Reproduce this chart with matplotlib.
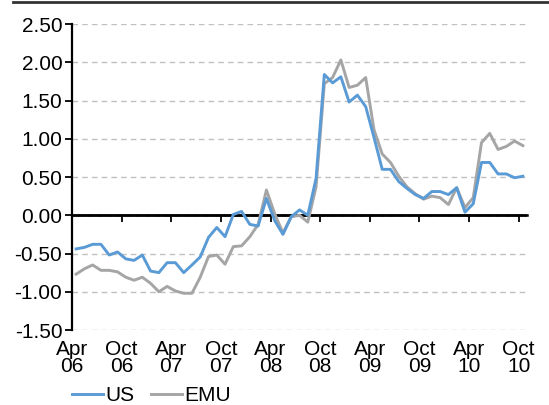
import numpy as np
import matplotlib
matplotlib.use("Agg")
import matplotlib.pyplot as plt
import matplotlib.lines as mlines

plt.rcParams['font.family'] = ['Liberation Sans', 'DejaVu Sans']
plt.rcParams['axes.unicode_minus'] = False

# monthly values, Apr 06 .. Oct 10
us = [-0.44, -0.42, -0.38, -0.38, -0.52, -0.48, -0.57, -0.59, -0.52, -0.73,
      -0.75, -0.62, -0.62, -0.75, -0.65, -0.545, -0.29, -0.16, -0.28, 0.01,
      0.05, -0.12, -0.14, 0.22, -0.07, -0.25, -0.02, 0.07, 0.0, 0.48,
      1.84, 1.73, 1.81, 1.48, 1.57, 1.42, 1.02, 0.60, 0.60, 0.44,
      0.35, 0.27, 0.22, 0.31, 0.31, 0.27, 0.36, 0.04, 0.15, 0.69,
      0.69, 0.54, 0.54, 0.49, 0.51]
emu = [-0.77, -0.70, -0.65, -0.72, -0.72, -0.74, -0.81, -0.85, -0.81, -0.89,
       -1.00, -0.93, -0.99, -1.02, -1.02, -0.81, -0.54, -0.52, -0.64, -0.41,
       -0.40, -0.28, -0.12, 0.33, 0.02, -0.23, -0.02, 0.0, -0.09, 0.37,
       1.72, 1.80, 2.03, 1.67, 1.70, 1.80, 1.12, 0.80, 0.69, 0.51,
       0.37, 0.28, 0.21, 0.25, 0.23, 0.14, 0.36, 0.10, 0.23, 0.95,
       1.07, 0.86, 0.90, 0.97, 0.91]
tick_labels = ['Apr\n06', 'Oct\n06', 'Apr\n07', 'Oct\n07', 'Apr\n08',
               'Oct\n08', 'Apr\n09', 'Oct\n09', 'Apr\n10', 'Oct\n10']
yticks = [-1.5, -1.0, -0.5, 0.0, 0.5, 1.0, 1.5, 2.0, 2.5]

blue = '#5B9BD5'
grey = '#A5A5A5'
fs = 15

fig = plt.figure(figsize=(5.49, 4.05), dpi=100)
ax = fig.add_axes([72/549, 75/405, 455/549, 306/405])

x = np.arange(len(us)) + 0.5
ax.plot(x, us, color=blue, lw=2.1, label='US', zorder=3)
ax.plot(x, emu, color=grey, lw=2.1, label='EMU', zorder=2)
ax.axhline(0, color='black', lw=1.8, zorder=1)

ax.set_xlim(0, 55)
ax.set_ylim(-1.5, 2.5)
ax.set_yticks(yticks)
ax.set_yticklabels(['%.2f' % v for v in yticks])
ax.yaxis.grid(True, color='#C0C0C0', lw=1, dashes=(4, 3))
ax.set_axisbelow(True)

for s in ['top', 'right', 'bottom']:
    ax.spines[s].set_visible(False)
ax.spines['left'].set_linewidth(1.6)
ax.tick_params(axis='y', length=5, width=1.3, labelsize=fs, pad=2)

xt = np.arange(0, 55, 6)
ax.set_xticks(xt)
ax.set_xticklabels(tick_labels, linespacing=0.88)
ax.tick_params(axis='x', length=0, labelsize=fs, pad=7)

# axis line crossing at zero, with its tick marks
sec = ax.secondary_xaxis(1.5/4)
sec.set_xticks(xt)
sec.tick_params(length=5, width=1.3, labelbottom=False)
sec.spines['bottom'].set_linewidth(1.8)

fig.add_artist(mlines.Line2D([13/549, 1], [1 - 1.5/405, 1 - 1.5/405],
                             color='#333333', lw=2))

fig.legend(loc='lower left', bbox_to_anchor=(70/549, -2/405), ncol=2,
           frameon=False, fontsize=fs, handlelength=1.5,
           handletextpad=0.1, columnspacing=0.8, borderaxespad=0,
           borderpad=0.1)

fig.savefig('out.png', dpi=100)
